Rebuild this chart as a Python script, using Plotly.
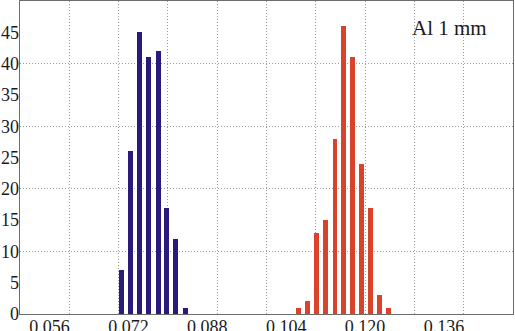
import plotly.graph_objects as go

# Data
blue_x = [0.0706, 0.0724, 0.0743, 0.0761, 0.0780, 0.0798, 0.0816, 0.0835]
blue_y = [7, 26, 45, 41, 42, 17, 12, 1]
red_x = [0.1065, 0.1083, 0.1102, 0.1120, 0.1139, 0.1157, 0.1175, 0.1193, 0.1211, 0.1229, 0.1248]
red_y = [1, 2, 13, 15, 28, 46, 41, 24, 17, 3, 1]
x_tickvals = [0.056, 0.072, 0.088, 0.104, 0.120, 0.136]
x_ticktext = ["0.056", "0.072", "0.088", "0.104", "0.120", "0.136"]
y_tickvals = [0, 5, 10, 15, 20, 25, 30, 35, 40, 45]
label = "Al 1 mm"

XR = [0.05, 0.15]
YR = [0, 50]
FONT = "Liberation Serif"
TXT = "#1a1a1a"
GRID = dict(showgrid=True, gridcolor="#9a9a9a", griddash="1px,2px", gridwidth=1)

fig = go.Figure()
# invisible trace so the grid (main) axes are drawn
fig.add_trace(go.Scatter(x=[XR[0]], y=[YR[0]], mode="markers", marker=dict(opacity=0),
                         hoverinfo="skip", showlegend=False, xaxis="x", yaxis="y"))
fig.add_trace(go.Bar(x=blue_x, y=blue_y, width=0.001, marker=dict(color="#2b1a7e", line=dict(width=0)),
                     xaxis="x2", yaxis="y2", showlegend=False))
fig.add_trace(go.Bar(x=red_x, y=red_y, width=0.001, marker=dict(color="#d9432b", line=dict(width=0)),
                     xaxis="x2", yaxis="y2", showlegend=False))

fig.update_layout(
    width=515, height=331,
    margin=dict(l=20, r=2, t=1, b=17),
    paper_bgcolor="white", plot_bgcolor="white",
    font=dict(family=FONT, size=18, color=TXT),
    xaxis=dict(range=XR, tickmode="linear", tick0=0.05, dtick=0.01, showticklabels=False,
               automargin=False, showline=True, mirror=True, linecolor="#6e6e6e", linewidth=1,
               zeroline=False, ticks="", **GRID),
    yaxis=dict(range=YR, tickmode="linear", tick0=0, dtick=10, showticklabels=False,
               automargin=False, showline=True, mirror=True, linecolor="#6e6e6e", linewidth=1,
               zeroline=False, ticks="", **GRID),
    xaxis2=dict(range=XR, overlaying="x", side="bottom", tickmode="array", tickvals=x_tickvals,
                ticktext=x_ticktext, showgrid=False, zeroline=False, showline=False, ticks="",
                automargin=False, tickfont=dict(family=FONT, size=18, color=TXT)),
    yaxis2=dict(range=YR, overlaying="y", side="left", tickmode="array", tickvals=y_tickvals,
                showgrid=False, zeroline=False, showline=False, ticks="", automargin=False,
                tickfont=dict(family=FONT, size=18, color=TXT)),
    bargap=0,
)

fig.add_annotation(text=label, xref="paper", yref="paper", x=0.872, y=0.914,
                   xanchor="center", yanchor="middle",
                   showarrow=False, font=dict(family=FONT, size=21, color=TXT))

fig.write_html("out.html", config={"displayModeBar": False},
               post_script="document.body.style.margin='0';")
